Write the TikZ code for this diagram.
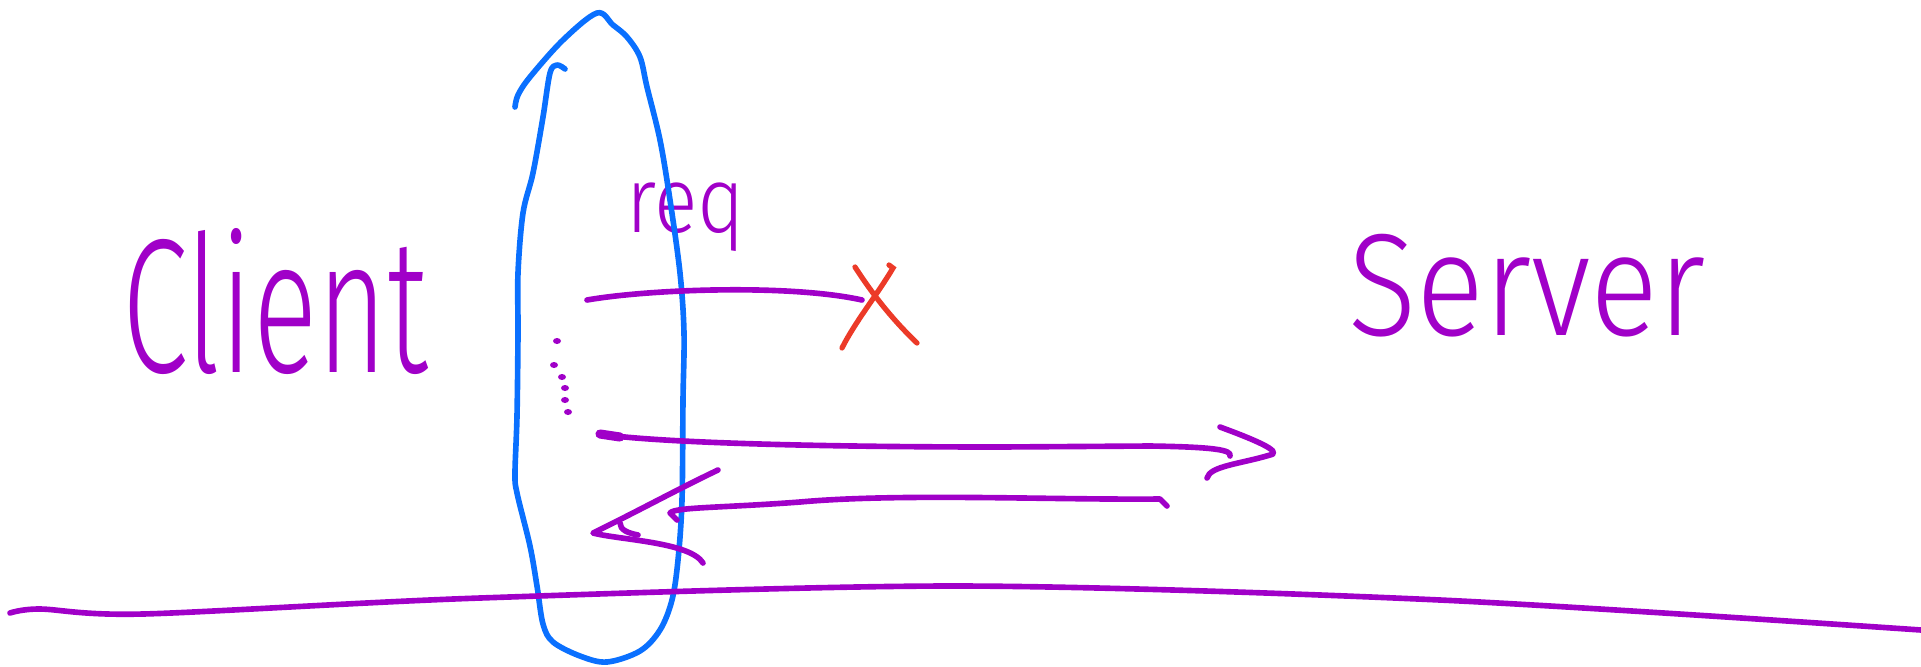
\documentclass[tikz,border=0pt]{standalone}
\usepackage{fontspec}
\setmainfont{Fira Sans}[UprightFont={* Light}]
\usepackage{graphicx}
\usepackage{tikz}
\usetikzlibrary{arrows.meta}
\definecolor{sketchpurple}{RGB}{160,0,200}
\definecolor{sketchblue}{RGB}{10,112,255}
\definecolor{sketchred}{RGB}{236,58,40}
\newcommand{\tallword}[2]{\scalebox{1}[#1]{#2}}

\begin{document}
\begin{tikzpicture}[
  x=0.01cm, y=-0.01cm,
  pen/.style={draw=sketchpurple, line width=1.6pt, line cap=round, line join=round},
  wall/.style={draw=sketchblue, line width=1.6pt, line cap=round, line join=round},
  strike/.style={draw=sketchred, line width=1.5pt, line cap=round},
  word/.style={text=sketchpurple, inner sep=0pt, anchor=base}
]
\useasboundingbox (0,0) rectangle (1921,666);

\node[word, font=\fontsize{34}{40}\selectfont] (client) at (275,372) {\tallword{1.6}{Client}};
\node[word, font=\fontsize{36}{42}\selectfont] (server) at (1527,335) {\tallword{1.15}{Server}};
\node[word, font=\fontsize{23}{28}\selectfont] (req) at (686,232) {\tallword{1.15}{req}};

\draw[wall] plot[smooth, tension=0.55] coordinates {
  (515,107) (518,95) (530,77) (563,40) (597,13) (613,25) (627,37) (640,57)
  (647,87) (660,140) (670,200) (680,273) (684,333) (683,400) (682,500)
  (678,560) (672,600) (660,630) (640,651) (607,662) (580,656) (553,642)
  (543,624) (537,586) (530,546) (517,493) (515,473) (517,416) (518,333)
  (518,273) (523,213) (533,173) (543,117) (550,73) (557,65) (565,69)};

\coordinate (req-tail) at (587,300);
\coordinate (blocked) at (862,300);
\draw[pen] (req-tail) .. controls (650,289) and (790,284) .. (blocked);
\draw[strike] (855,267) .. controls (875,298) and (895,322) .. (917,343);
\draw[strike] (889,265) -- (893,268) .. controls (877,295) and (855,322) .. (842,348);

\foreach \dx/\dy in {557/341, 554/365, 562/377, 565/388, 565/400, 568/412}
  \fill[sketchpurple] (\dx,\dy) ellipse (4 and 3);

\coordinate (srv-tail) at (600,434);
\coordinate (srv-end) at (1230,456);
\coordinate (srv-tip) at (1270,455);
\draw[pen, line width=2.6pt] (srv-tail) -- (620,437);
\draw[pen] (srv-tail) .. controls (650,442) and (800,447) .. (1000,447) -- (1150,446)
  .. controls (1215,447) and (1232,450) .. (srv-end);
\draw[pen] (1220,427) .. controls (1250,438) and (1285,452) .. (srv-tip)
  .. controls (1240,464) and (1210,466) .. (1207,478);

\coordinate (back-tail) at (1167,506);
\coordinate (back-end) at (677,520);
\coordinate (back-tip) at (593,533);
\draw[pen] (back-tail) -- (1160,499) .. controls (1050,500) and (900,493) .. (800,502)
  .. controls (720,508) and (675,507) .. (670,513) -- (back-end);
\draw[pen] (718,470) .. controls (680,488) and (640,510) .. (back-tip)
  .. controls (620,540) and (690,542) .. (703,563);
\draw[pen] (620,523) .. controls (620,530) and (628,533) .. (638,535);

\draw[pen] plot[smooth, tension=0.5] coordinates {
  (10,613) (40,609) (143,614) (480,598) (960,586) (1440,600) (1921,630)};
\end{tikzpicture}
\end{document}
